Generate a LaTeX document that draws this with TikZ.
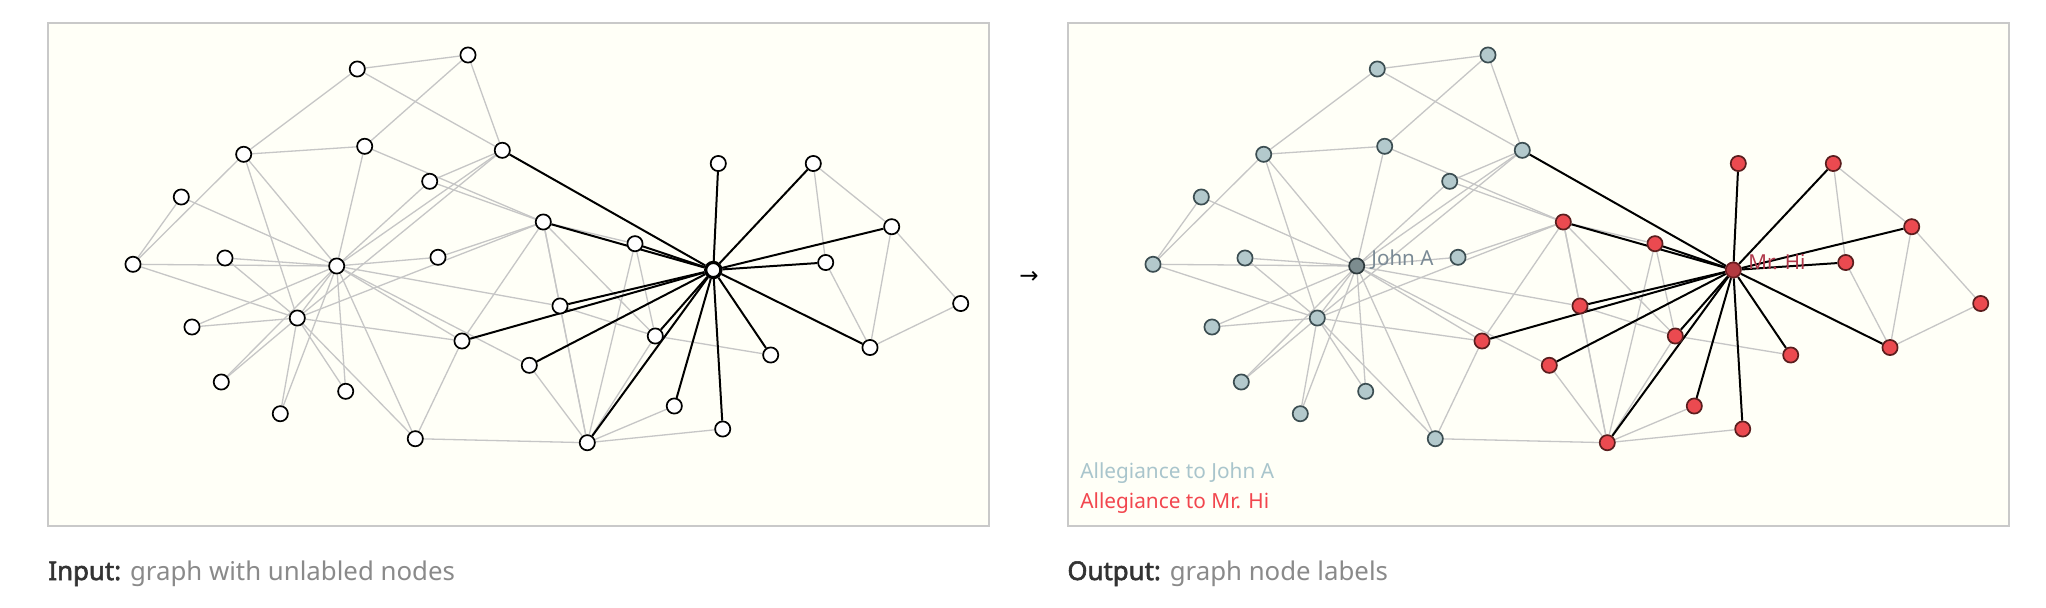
\documentclass[tikz,border=0pt]{standalone}
\usepackage{fontspec}
\setmainfont{Noto Sans}
\newfontfamily\capbold{Noto Sans}[FakeBold=2.2]
\newfontfamily\djv{DejaVu Sans}
\definecolor{panelbg}{HTML}{FFFFF7}
\definecolor{panelbd}{HTML}{C9C9C9}
\definecolor{gedgec}{HTML}{C6C6C6}
\definecolor{bluefill}{HTML}{B3C9CC}
\definecolor{bluebd}{HTML}{3C4E52}
\definecolor{johnfill}{HTML}{7C8C8F}
\definecolor{johnbd}{HTML}{2E3A3D}
\definecolor{redfill}{HTML}{EB4A50}
\definecolor{redbd}{HTML}{5A1E1E}
\definecolor{hifill}{HTML}{B23A40}
\definecolor{hibd}{HTML}{6A1C20}
\definecolor{johntxt}{HTML}{7A8A95}
\definecolor{hitxt}{HTML}{B0384A}
\definecolor{legjohn}{HTML}{A9C5CC}
\definecolor{leghi}{HTML}{F2464E}
\definecolor{capdark}{HTML}{333333}
\definecolor{capgray}{HTML}{8A8A8A}
\pgfdeclarelayer{bg}
\pgfdeclarelayer{edges}
\pgfsetlayers{bg,edges,main}
\tikzset{
  panel/.style={draw=panelbd, fill=panelbg, line width=0.75pt},
  basenode/.style={circle, inner sep=0pt, minimum size=7.6pt, line width=0.85pt},
  lnode/.style={basenode, draw=black, fill=white},
  lhub/.style={basenode, draw=black, fill=white, line width=1.6pt},
  rblue/.style={basenode, draw=bluebd, fill=bluefill},
  rjohn/.style={basenode, draw=johnbd, fill=johnfill},
  rred/.style={basenode, draw=redbd, fill=redfill},
  rhi/.style={basenode, draw=hibd, fill=hifill},
  gedge/.style={draw=gedgec, line width=0.65pt},
  bedge/.style={draw=black, line width=1pt},
  nlabel/.style={inner sep=0pt, font=\fontsize{10.3}{12}\selectfont},
  legend/.style={inner sep=0pt, anchor=base west, font=\fontsize{10.4}{12}\selectfont},
  caption/.style={inner sep=0pt, anchor=base west, font=\fontsize{12.9}{15}\selectfont, text=capgray}
}
% id / x / y / left style / right style
\def\nodelist{
1/713.3/270/lhub/rhi, 2/587.3/442.7/lnode/rred, 3/543.3/222/lnode/rred,
4/655.3/336/lnode/rred, 5/825.7/262.5/lnode/rred, 6/891.7/226.7/lnode/rred,
7/870/347.5/lnode/rred, 8/635/243.7/lnode/rred, 9/462/341/lnode/rred,
10/438/257.3/lnode/rblue, 11/813.3/163.5/lnode/rred, 12/718.3/163.5/lnode/rred,
13/770.7/355/lnode/rred, 14/560/306/lnode/rred, 15/192/327/lnode/rblue,
16/221.3/382/lnode/rblue, 17/960.7/303.5/lnode/rred, 18/674.3/406/lnode/rred,
19/345.7/391.3/lnode/rblue, 20/529.3/365.3/lnode/rred, 21/280.3/413.7/lnode/rblue,
22/722.7/429/lnode/rred, 23/225/258/lnode/rblue, 24/243.7/154.3/lnode/rblue,
25/468/55/lnode/rblue, 26/357.3/69/lnode/rblue, 27/181.3/197/lnode/rblue,
28/364.7/146.3/lnode/rblue, 29/429.7/181.3/lnode/rblue, 30/133/264.3/lnode/rblue,
31/415.3/438.7/lnode/rblue, 32/502.3/150.3/lnode/rblue, 33/297.3/318/lnode/rblue,
34/336.7/266/lnode/rjohn}
\def\grayedges{2/3,2/4,2/8,2/14,2/18,2/20,2/22,2/31,
3/4,3/8,3/9,3/10,3/14,3/28,3/29,3/33,
4/8,4/13,4/14,5/7,5/11,6/7,6/11,6/17,7/17,
9/31,9/33,9/34,10/34,14/34,15/33,15/34,16/33,16/34,
19/33,19/34,20/34,21/33,21/34,23/33,23/34,
24/26,24/28,24/30,24/33,24/34,25/26,25/28,25/32,26/32,
27/30,27/34,28/34,29/32,29/34,30/33,30/34,31/33,31/34,
32/33,32/34,33/34}
\def\hubedges{2,3,4,5,6,7,8,9,11,12,13,14,18,20,22,32}
\begin{document}
\begin{tikzpicture}[x=0.5pt,y=-0.5pt]
\useasboundingbox (0,0) rectangle (2046,607);
\begin{pgfonlayer}{bg}
  \fill[white] (0,0) rectangle (2046,607);
  \draw[panel] (48,23) rectangle (989,526);
  \draw[panel] (1068,23) rectangle (2009,526);
\end{pgfonlayer}
% nodes
\foreach \i/\x/\y/\ls/\rs in \nodelist {
  \node[\ls] (L\i) at (\x,\y) {};
  \node[\rs] (R\i) at ({\x+1020},\y) {};
}
% edges
\begin{pgfonlayer}{edges}
\foreach \a/\b in \grayedges {
  \draw[gedge] (L\a) -- (L\b);
  \draw[gedge] (R\a) -- (R\b);
}
\foreach \b in \hubedges {
  \draw[bedge] (L1) -- (L\b);
  \draw[bedge] (R1) -- (R\b);
}
\end{pgfonlayer}
% labels
\node[nlabel, anchor=base west, text=johntxt] (lblJohn) at (1371,265) {John A};
\node[nlabel, anchor=base west, text=hitxt] (lblHi) at (1748,269) {Mr. Hi};
\node[legend, text=legjohn] (legJohn) at (1080,478) {Allegiance to John A};
\node[legend, text=leghi] (legHi) at (1080,508) {Allegiance to Mr. Hi};
% arrow
\node[inner sep=0pt, font=\djv\fontsize{11.5}{13}\selectfont] (arrow) at (1029,277) {→};
% captions
\node[caption] (capIn) at (48,580) {\textcolor{capdark}{\capbold Input:} graph with unlabled nodes};
\node[caption] (capOut) at (1067,580) {\textcolor{capdark}{\capbold Output:} graph node labels};
\end{tikzpicture}
\end{document}
